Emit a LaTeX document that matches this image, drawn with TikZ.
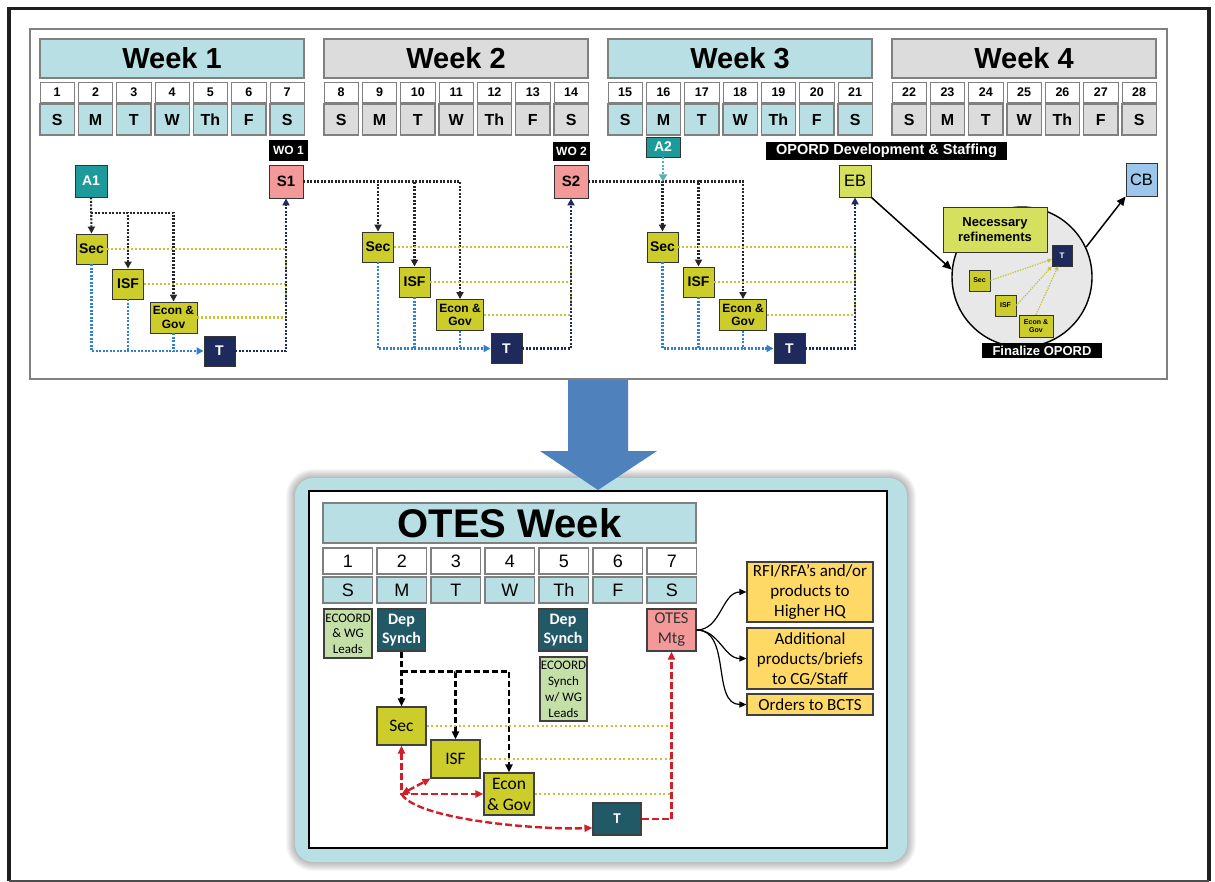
\documentclass[tikz,border=0pt]{standalone}
\usepackage{fontspec}
\setmainfont{Liberation Sans}
\newfontfamily\calfont{Carlito}
\usetikzlibrary{arrows.meta,calc}
\definecolor{cCyan}{HTML}{B8DFE3}
\definecolor{cGray}{HTML}{DCDCDC}
\definecolor{cOlive}{HTML}{CCCC2B}
\definecolor{cNavy}{HTML}{1F2A5C}
\definecolor{cTeal}{HTML}{1E9A9A}
\definecolor{cPink}{HTML}{F4999A}
\definecolor{cLime}{HTML}{D4E05E}
\definecolor{cSky}{HTML}{9DC6EC}
\definecolor{cBlue}{HTML}{2F80CF}
\definecolor{cYel}{HTML}{C4C43A}
\definecolor{cDeep}{HTML}{215967}
\definecolor{cMint}{HTML}{C5DFA9}
\definecolor{cGold}{HTML}{FFD966}
\definecolor{cRed}{HTML}{D02027}
\definecolor{cArrow}{HTML}{4F81BD}
\definecolor{cFrame}{HTML}{808080}
\definecolor{cDisc}{HTML}{E8E8E8}
\begin{document}
\begin{tikzpicture}[x=1pt, y=-1pt, >={Triangle[length=7pt,width=7pt]},
  wk/.style={draw=cFrame, line width=1.2, inner sep=0, minimum width=264, minimum height=39, font=\bfseries\fontsize{29}{29}\selectfont},
  num/.style={draw=cFrame, line width=0.9, fill=white, inner sep=0, minimum width=34.3, minimum height=20, font=\bfseries\fontsize{12.5}{12.5}\selectfont},
  day/.style={draw=cFrame, line width=1.2, inner sep=0, minimum width=34.3, minimum height=31, font=\bfseries\fontsize{16}{16}\selectfont},
  nd/.style={draw=black!80, line width=0.9, inner sep=0, align=center, text=black, font=\bfseries\fontsize{14}{14}\selectfont},
  sq/.style={minimum width=31, minimum height=30},
  wd/.style={minimum width=47, minimum height=31, font=\bfseries\fontsize{12}{13.5}\selectfont},
  ol/.style={nd, fill=cOlive},
  nv/.style={nd, fill=cNavy, text=white},
  tl/.style={nd, fill=cTeal, text=white, font=\bfseries\fontsize{14}{14}\selectfont},
  pk/.style={nd, fill=cPink, font=\bfseries\fontsize{15}{15}\selectfont},
  tag/.style={fill=black, text=white, inner sep=0, font=\bfseries\fontsize{12}{12}\selectfont},
  mini/.style={nd, line width=0.7, font=\bfseries\fontsize{7}{7.5}\selectfont},
  kd/.style={draw=black!85, line width=2.1, dash pattern=on 2pt off 1.5pt},
  yd/.style={draw=cYel, line width=2.1, dash pattern=on 2pt off 2pt},
  bd/.style={draw=cBlue, line width=2.1, dash pattern=on 2pt off 1.5pt},
  vd/.style={draw=cNavy, line width=2.1, dash pattern=on 2pt off 1.5pt},
  td/.style={draw=cTeal!75, line width=2.6, dash pattern=on 2pt off 1.6pt},
  solidarrow/.style={draw=black, line width=1.5, ->, >={Triangle[length=9pt,width=8pt]}},
  bnum/.style={draw=cFrame, line width=1.1, fill=white, inner sep=0, minimum width=49.7, minimum height=26, font=\fontsize{18}{18}\selectfont},
  bday/.style={draw=cFrame, line width=1.1, fill=cCyan, inner sep=0, minimum width=49.7, minimum height=26, font=\fontsize{18}{18}\selectfont},
  bn/.style={draw=black!75, line width=1.1, inner sep=0, align=center, font=\calfont\fontsize{17.5}{19}\selectfont},
  mint/.style={bn, fill=cMint, font=\calfont\fontsize{13}{15.5}\selectfont},
  dep/.style={bn, fill=cDeep, text=white, minimum width=48.5, minimum height=42, font=\calfont\bfseries\fontsize{16}{19}\selectfont},
  gold/.style={bn, fill=cGold, minimum width=126, font=\calfont\fontsize{17}{20}\selectfont},
  bk/.style={draw=black, line width=2.4, dash pattern=on 6pt off 3pt, ->, >={Triangle[length=8pt,width=7pt]}},
  rd/.style={draw=cRed, line width=2.4, dash pattern=on 7pt off 3pt, >={Triangle[length=8pt,width=7pt]}},
  byd/.style={draw=cYel, line width=2, dash pattern=on 2pt off 2.6pt},
  cur/.style={draw=black, line width=1.2, ->, >={Triangle[length=7pt,width=6pt]}}
]
\useasboundingbox (0,0) rectangle (1215,882);
\fill[white] (0,0) rectangle (1215,882);

% outer frame
\draw[line width=3.4, black!88] (9,881) -- (9,8.5) -- (1209,8.5) -- (1209,881);
\draw[line width=1.2, black!70] (9,881) -- (1209,881);

% ---------------- monthly plan panel ----------------
\draw[cFrame, line width=1.3, fill=white] (30,29) rectangle (1167,379);

\foreach \w/\col in {0/cCyan,1/cGray,2/cCyan,3/cGray}{
  \pgfmathsetmacro\xo{40+284*\w}
  \pgfmathtruncatemacro\wn{\w+1}
  \node[wk, fill=\col] (week\wn) at (\xo+132,58.5) {Week \wn};
  \foreach \d/\dn in {0/S,1/M,2/T,3/W,4/Th,5/F,6/S}{
    \pgfmathtruncatemacro\num{\w*7+\d+1}
    \node[num] (n\num) at (\xo+\d*38.33+17.15,92) {\num};
    \node[day, fill=\col] (d\num) at (\xo+\d*38.33+17.15,119.5) {\dn};
  }
}

% week 1
\node[tl, minimum width=32, minimum height=32] (A1) at (91,181) {A1};
\node[pk, minimum width=34, minimum height=33] (S1) at (286,181.5) {S1};
\node[tag, minimum width=39, minimum height=21] (WO1) at (288.5,150.5) {WO 1};
\node[ol, sq] (Sec1) at (91.5,249) {Sec};
\node[ol, sq] (ISF1) at (128,284) {ISF};
\node[ol, wd] (Econ1) at (173.5,317.5) {Econ \&\\Gov};
\node[nv, sq] (T1) at (219.5,351) {T};

% week 2
\node[pk, minimum width=34, minimum height=33] (S2) at (571,181.5) {S2};
\node[tag, minimum width=37, minimum height=19] (WO2) at (571.5,151.5) {WO 2};
\node[ol, sq] (Sec2) at (378,247) {Sec};
\node[ol, sq] (ISF2) at (414.5,282) {ISF};
\node[ol, wd] (Econ2) at (460,315) {Econ \&\\Gov};
\node[nv, sq] (T2) at (506.5,348.5) {T};

% week 3
\node[tl, minimum width=34, minimum height=20] (A2) at (663,147) {A2};
\node[ol, sq] (Sec3) at (662.5,247) {Sec};
\node[ol, sq] (ISF3) at (698.5,282) {ISF};
\node[ol, wd] (Econ3) at (743,315) {Econ \&\\Gov};
\node[nv, sq] (T3) at (789.5,348.5) {T};
\node[nd, fill=cLime, minimum width=32, minimum height=32, font=\fontsize{16.5}{16.5}\selectfont] (EB) at (855,181) {EB};
\node[tag, minimum width=241, minimum height=18, font=\bfseries\fontsize{14.5}{14.5}\selectfont] (OPORD) at (886.5,151) {OPORD Development \& Staffing};

% week 4
\node[nd, fill=cSky, minimum width=31, minimum height=33, font=\fontsize{16.5}{16.5}\selectfont] (CB) at (1141.5,179.5) {CB};
\node[circle, draw=black, line width=1.4, fill=cDisc, minimum size=140, inner sep=0] (circ) at (1022,277) {};
\node[nd, fill=cLime, minimum width=104, minimum height=45, font=\bfseries\fontsize{13}{15}\selectfont] (Nec) at (995,229.5) {Necessary\\refinements};
\node[mini, fill=cNavy, text=white, minimum width=20, minimum height=21, font=\bfseries\fontsize{8}{8}\selectfont] (sT) at (1062,255.5) {T};
\node[mini, fill=cOlive, minimum width=21, minimum height=21] (sSec) at (979.5,280.5) {Sec};
\node[mini, fill=cOlive, minimum width=21, minimum height=21] (sISF) at (1005.5,305.5) {ISF};
\node[mini, fill=cOlive, minimum width=34, minimum height=22] (sEcon) at (1036,326) {Econ \&\\Gov};
\node[tag, minimum width=120, minimum height=15, font=\bfseries\fontsize{13}{13}\selectfont] (Fin) at (1042,350.5) {Finalize OPORD};

% week 1 connectors
\coordinate (j1) at ($(A1.south)+(0,16)$);
\draw[kd,->] (A1.south) -- (Sec1.north);
\draw[kd,->] (j1) -| (ISF1.north);
\draw[kd,->] (j1) -| (Econ1.north);
\draw[yd] (Sec1.east) -- (Sec1.east -| S1.south);
\draw[yd] (ISF1.east) -- (ISF1.east -| S1.south);
\draw[yd] (Econ1.east) -- (Econ1.east -| S1.south);
\draw[yd] (Sec1.east -| S1.south) -- (Econ1.east -| S1.south);
\draw[bd,->] (Sec1.south) |- (T1.west);
\draw[bd] (ISF1.south) -- (ISF1.south |- T1.west);
\draw[bd] (Econ1.south) -- (Econ1.south |- T1.west);
\draw[vd,->] (T1.east) -| (S1.south);

% week 2 connectors
\draw[kd,->] (S1.east) -| (Sec2.north);
\draw[kd,->] (S1.east) -| (ISF2.north);
\draw[kd,->] (S1.east) -| (Econ2.north);
\draw[yd] (Sec2.east) -- (Sec2.east -| S2.south);
\draw[yd] (ISF2.east) -- (ISF2.east -| S2.south);
\draw[yd] (Econ2.east) -- (Econ2.east -| S2.south);
\draw[yd] (Sec2.east -| S2.south) -- (Econ2.east -| S2.south);
\draw[bd,->] (Sec2.south) |- (T2.west);
\draw[bd] (ISF2.south) -- (ISF2.south |- T2.west);
\draw[bd] (Econ2.south) -- (Econ2.south |- T2.west);
\draw[vd,->] (T2.east) -| (S2.south);

% week 3 connectors
\draw[kd,->] (S2.east) -| (Sec3.north);
\draw[kd,->] (S2.east) -| (ISF3.north);
\draw[kd,->] (S2.east) -| (Econ3.north);
\draw[td,->,>={Triangle[length=7pt,width=8pt]}] (A2.south) -- (A2.south |- S2.east);
\draw[yd] (Sec3.east) -- (Sec3.east -| EB.south);
\draw[yd] (ISF3.east) -- (ISF3.east -| EB.south);
\draw[yd] (Econ3.east) -- (Econ3.east -| EB.south);
\draw[yd] (Sec3.east -| EB.south) -- (Econ3.east -| EB.south);
\draw[bd,->] (Sec3.south) |- (T3.west);
\draw[bd] (ISF3.south) -- (ISF3.south |- T3.west);
\draw[bd] (Econ3.south) -- (Econ3.south |- T3.west);
\draw[vd,->] (T3.east) -| (EB.south);

% week 4 connectors
\draw[solidarrow] (EB.south east) -- (circ.174);
\draw[solidarrow] (circ.25) -- (CB.south west);
\draw[yd, line width=1.3, dash pattern=on 1.3pt off 1.3pt, ->, >={Triangle[length=4pt,width=4pt]}] (sSec.east) -- (sT.200);
\draw[yd, line width=1.3, dash pattern=on 1.3pt off 1.3pt, ->, >={Triangle[length=4pt,width=4pt]}] (sISF.east) -- (sT.south west);
\draw[yd, line width=1.3, dash pattern=on 1.3pt off 1.3pt, ->, >={Triangle[length=4pt,width=4pt]}] (sEcon.north) -- (sT.250);

% ---------------- OTES week panel ----------------
\foreach \i in {1,...,9}{
  \fill[black, opacity=0.03, rounded corners=18+\i] (295-\i,478-\i) rectangle (907+\i,862+\i);
}
\fill[cCyan, rounded corners=18] (295,478) rectangle (907,862);
\fill[cArrow] (568,380) -- (628,380) -- (628,451) -- (657,451) -- (598,490) -- (540,451) -- (568,451) -- cycle;
\draw[line width=2.2, fill=white] (309,491) rectangle (887,848);

\node[draw=cFrame, line width=1.2, fill=cCyan, inner sep=0, minimum width=373, minimum height=40, font=\bfseries\fontsize{40}{40}\selectfont] (otitle) at (509.5,523) {OTES Week};
\foreach \d/\dn in {0/S,1/M,2/T,3/W,4/Th,5/F,6/S}{
  \pgfmathtruncatemacro\num{\d+1}
  \node[bnum] (bn\num) at (347.8+\d*54,561) {\num};
  \node[bday] (bd\num) at (347.8+\d*54,590) {\dn};
}

\node[mint, minimum width=48, minimum height=49] (Eco1) at (348,633.5) {ECOORD\\\& WG\\Leads};
\node[dep] (Dep1) at (401.5,630) {Dep\\Synch};
\node[dep] (Dep2) at (563,630) {Dep\\Synch};
\node[mint, minimum width=47, minimum height=64, font=\calfont\fontsize{13}{16}\selectfont] (Eco2) at (563.5,689) {ECOORD\\Synch\\w/ WG\\Leads};
\node[bn, fill=cPink, text=black!80, minimum width=49, minimum height=42, font=\calfont\fontsize{16.5}{20}\selectfont] (OTES) at (671.5,630) {OTES\\Mtg};
\node[bn, fill=cOlive, minimum width=49, minimum height=38] (bSec) at (401.5,726) {Sec};
\node[bn, fill=cOlive, minimum width=49, minimum height=38] (bISF) at (455.5,759) {ISF};
\node[bn, fill=cOlive, minimum width=50, minimum height=42, font=\calfont\fontsize{17.5}{21}\selectfont] (bEcon) at (509,794) {Econ\\\& Gov};
\node[bn, fill=cDeep, text=white, minimum width=48, minimum height=32, font=\calfont\bfseries\fontsize{15}{15}\selectfont] (bT) at (617,819) {T};

\node[gold, minimum height=60] (o1) at (810,592) {RFI/RFA’s and/or\\products to\\Higher HQ};
\node[gold, minimum height=61] (o2) at (810,658.5) {Additional\\products/briefs\\to CG/Staff};
\node[gold, minimum height=21] (o3) at (810,704.5) {Orders to BCTS};

% tasking from the deputies' synch
\coordinate (j4) at ($(Dep1.south)+(0,20)$);
\draw[bk] (Dep1.south) -- (bSec.north);
\draw[bk] (j4) -| (bISF.north);
\draw[bk] (j4) -| (bEcon.north);

% working groups feed the OTES meeting
\draw[byd] (bSec.east) -- (bSec.east -| OTES.south);
\draw[byd] (bISF.east) -- (bISF.east -| OTES.south);
\draw[byd] (bEcon.east) -- (bEcon.east -| OTES.south);
\draw[rd,->] (bT.east) -| (OTES.south);

% coordination among working groups
\coordinate (hub) at (bSec.south |- bEcon.west);
\draw[rd,<->] (bSec.south) |- (bEcon.west);
\draw[rd,<->] (hub) -- (bISF.south west);
\draw[rd,->] (hub) .. controls +(15,25) and +(-60,2) .. (bT.200);

% meeting outputs
\draw[cur] (OTES.east) to[out=0,in=180] (o1.west);
\draw[cur] (OTES.east) to[out=0,in=180] (o2.west);
\draw[cur] (OTES.east) to[out=0,in=180] (o3.west);
\end{tikzpicture}
\end{document}
